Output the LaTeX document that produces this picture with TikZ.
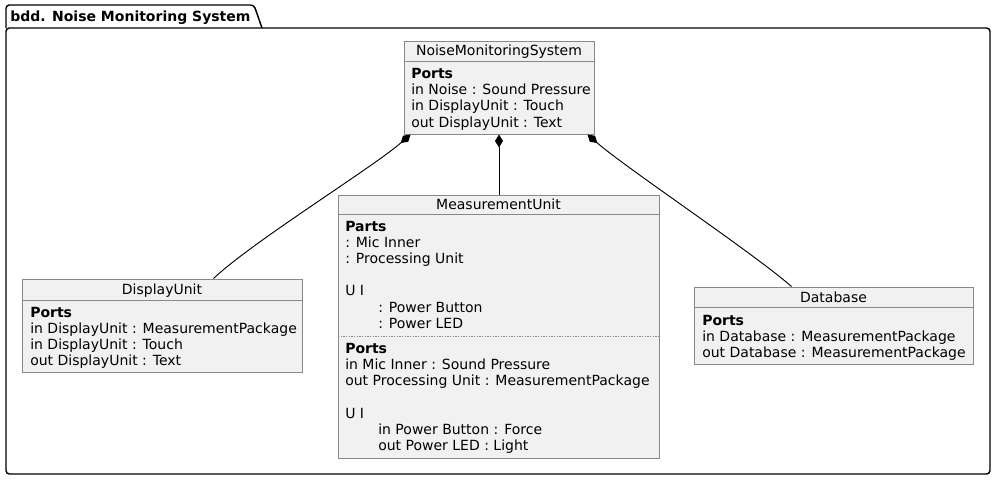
\documentclass[tikz,border=0pt]{standalone}
\usepackage{fontspec}
\setmainfont{DejaVu Sans}
\usetikzlibrary{arrows.meta,fit,calc}
\definecolor{boxfill}{HTML}{F1F1F1}
\definecolor{boxline}{HTML}{888888}
\begin{document}
\begin{tikzpicture}[x=0.75pt,y=-0.75pt,
  every node/.style={inner sep=0pt, font=\fontsize{10.5pt}{12pt}\selectfont},
  txt/.style={anchor=base west},
  ttl/.style={anchor=base},
  hdr/.style={anchor=base west, font=\fontsize{10.5pt}{12pt}\selectfont\bfseries},
  cls/.style={draw=boxline, fill=boxfill, line width=0.75pt, inner sep=0pt},
  sepline/.style={draw=boxline, line width=0.75pt},
  dotsep/.style={draw=boxline, line width=0.75pt, dash pattern=on 1pt off 1pt},
  comp/.style={line width=0.7pt, {Diamond[length=9.75pt,width=6pt]}-},
  frame/.style={line width=1.1pt, rounded corners=2.5pt}
]
\useasboundingbox (0,0) rectangle (996,480);

% package frame
\draw[frame] (6,28) -- (6,5) -- (254,5) -- (262,28);
\draw[frame] (6,28) -- (990,28) -- (990,474) -- (6,474) -- cycle;
\node[anchor=base west, font=\fontsize{10.5pt}{12pt}\selectfont\bfseries] (pkg) at (10,21) {bdd. Noise Monitoring System};

% NoiseMonitoringSystem
\node[cls, fit={(404,41) (594,134)}] (nms) {};
\draw[sepline] (404,61) -- (594,61);
\node[ttl] (nmsT) at (499,55.5) {NoiseMonitoringSystem};
\node[hdr] (nmsP) at (411,78.5) {Ports};
\node[txt] (nms1) at (411,94.7) {in Noise : Sound Pressure};
\node[txt] (nms2) at (411,110.9) {in DisplayUnit : Touch};
\node[txt] (nms3) at (411,127.1) {out DisplayUnit : Text};

% MeasurementUnit
\node[cls, fit={(338,195) (659,458)}] (mu) {};
\draw[sepline] (338,214.5) -- (659,214.5);
\draw[dotsep] (338,336.5) -- (659,336.5);
\node[ttl] (muT) at (498.5,209) {MeasurementUnit};
\node[hdr] (muP) at (345,231) {Parts};
\node[txt] (mu1) at (345,247.2) {: Mic Inner};
\node[txt] (mu2) at (345,263.4) {: Processing Unit};
\node[txt] (mu3) at (345,295.8) {U I};
\node[txt] (mu4) at (378,312) {: Power Button};
\node[txt] (mu5) at (378,328.2) {: Power LED};
\node[hdr] (muQ) at (345,353.5) {Ports};
\node[txt] (mu6) at (345,369.7) {in Mic Inner : Sound Pressure};
\node[txt] (mu7) at (345,385.9) {out Processing Unit : MeasurementPackage};
\node[txt] (mu8) at (345,418.3) {U I};
\node[txt] (mu9) at (378,434.5) {in Power Button : Force};
\node[txt] (mu10) at (378,450.7) {out Power LED : Light};

% DisplayUnit
\node[cls, fit={(22,279) (302,372)}] (du) {};
\draw[sepline] (22,300) -- (302,300);
\node[ttl] (duT) at (162,294.3) {DisplayUnit};
\node[hdr] (duP) at (30,317) {Ports};
\node[txt] (du1) at (30,333.2) {in DisplayUnit : MeasurementPackage};
\node[txt] (du2) at (30,349.4) {in DisplayUnit : Touch};
\node[txt] (du3) at (30,365.6) {out DisplayUnit : Text};

% Database
\node[cls, fit={(694,287) (973,364)}] (db) {};
\draw[sepline] (694,307.7) -- (973,307.7);
\node[ttl] (dbT) at (833.5,302) {Database};
\node[hdr] (dbP) at (702,325) {Ports};
\node[txt] (db1) at (702,341.2) {in Database : MeasurementPackage};
\node[txt] (db2) at (702,357.4) {out Database : MeasurementPackage};

% composition connectors
\draw[comp] ($(nms.south west)+(7,0)$) .. controls (372,168) and (252,242) .. ($(du.north west)+(192,0)$);
\draw[comp] (nms.south) -- (nms.south |- mu.north);
\draw[comp] ($(nms.south east)+(-7,0)$) .. controls (626,168) and (752,252) .. ($(db.north west)+(98,0)$);
\end{tikzpicture}
\end{document}
